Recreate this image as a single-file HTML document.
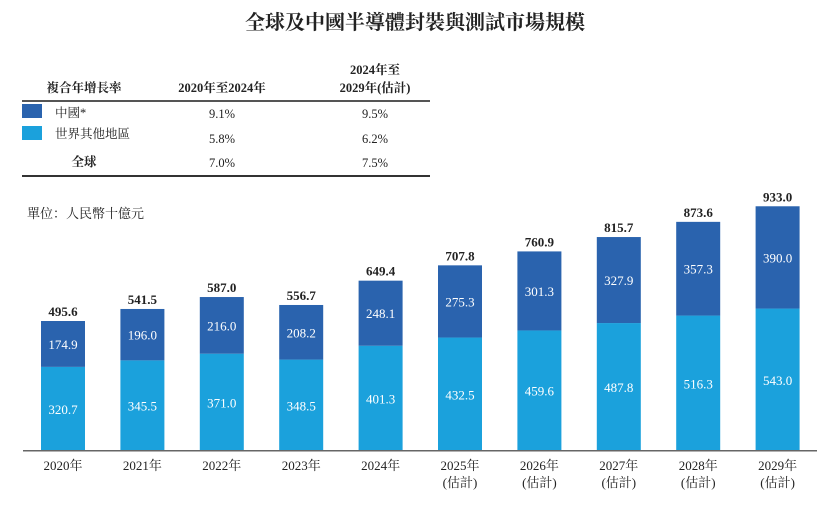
<!DOCTYPE html>
<html><head><meta charset="utf-8"><style>
body{margin:0;background:#fff;}
svg text{font-family:"Liberation Serif","Noto Serif CJK SC","Noto Sans CJK TC",serif;}
</style></head><body>
<svg id="c" width="831" height="500" xmlns="http://www.w3.org/2000/svg">
<text x="415" y="29" text-anchor="middle" font-size="20" font-weight="bold" fill="#222">全球及中國半導體封裝與測試市場規模</text>
<g font-size="12.5" fill="#222">
<text x="84" y="92" text-anchor="middle" font-weight="bold">複合年增長率</text>
<text x="222" y="92" text-anchor="middle" font-weight="bold">2020年至2024年</text>
<text x="375" y="74" text-anchor="middle" font-weight="bold">2024年至</text>
<text x="375" y="92" text-anchor="middle" font-weight="bold">2029年(估計)</text>
<rect x="22" y="100" width="408" height="2" fill="#555"/>
<rect x="22" y="104" width="20" height="14" fill="#2a63ae"/>
<text x="55" y="117">中國*</text>
<text x="222" y="118" text-anchor="middle">9.1%</text>
<text x="375" y="118" text-anchor="middle">9.5%</text>
<rect x="22" y="126" width="20" height="14" fill="#1ba1dc"/>
<text x="55" y="138">世界其他地區</text>
<text x="222" y="143" text-anchor="middle">5.8%</text>
<text x="375" y="143" text-anchor="middle">6.2%</text>
<text x="84" y="166" text-anchor="middle" font-weight="bold">全球</text>
<text x="222" y="167" text-anchor="middle">7.0%</text>
<text x="375" y="167" text-anchor="middle">7.5%</text>
<rect x="22" y="175" width="408" height="2" fill="#333"/>
</g>
<text x="27" y="218" font-size="13" fill="#222">單位：人民幣十億元</text>
<g id="bars"></g>
<rect x="23" y="450" width="794" height="1.5" fill="#666"/>
</svg>
<script>
const years=["2020年","2021年","2022年","2023年","2024年","2025年","2026年","2027年","2028年","2029年"];
const estimated=[false,false,false,false,false,true,true,true,true,true];
const rest=[320.7,345.5,371.0,348.5,401.3,432.5,459.6,487.8,516.3,543.0];
const china=[174.9,196.0,216.0,208.2,248.1,275.3,301.3,327.9,357.3,390.0];
const totals=[495.6,541.5,587.0,556.7,649.4,707.8,760.9,815.7,873.6,933.0];
const NS="http://www.w3.org/2000/svg";
const base=451, k=0.2623, bw=44;
function xc(i){return 63+i*79.4;}
function y(v){return base-v*k;}
const g=document.getElementById('bars');
function mk(t,a){const e=document.createElementNS(NS,t);for(const n in a)e.setAttribute(n,a[n]);return e;}
years.forEach((yr,i)=>{
  const x=xc(i)-bw/2;
  const r1=mk('rect',{x:x,y:y(rest[i]),width:bw,height:rest[i]*k,fill:'#1ba1dc'});
  
  
  g.appendChild(r1);
  const r2=mk('rect',{x:x,y:y(rest[i]+china[i]),width:bw,height:china[i]*k,fill:'#2a63ae'});
  
  
  g.appendChild(r2);
  const t1=mk('text',{x:xc(i),y:(y(0)+y(rest[i]))/2+5,'text-anchor':'middle','font-size':'13',fill:'#fff'});
  t1.textContent=rest[i].toFixed(1);
  
  
  g.appendChild(t1);
  const t2=mk('text',{x:xc(i),y:(y(rest[i])+y(rest[i]+china[i]))/2+5,'text-anchor':'middle','font-size':'13',fill:'#fff'});
  t2.textContent=china[i].toFixed(1);
  
  
  g.appendChild(t2);
  const t3=mk('text',{x:xc(i),y:y(totals[i])-5,'text-anchor':'middle','font-size':'13','font-weight':'bold',fill:'#222'});
  t3.textContent=totals[i].toFixed(1);
  
  
  g.appendChild(t3);
  const t4=mk('text',{x:xc(i),y:470,'text-anchor':'middle','font-size':'13',fill:'#222'});
  t4.textContent=yr;
  
  
  g.appendChild(t4);
  if(estimated[i]){
    const t5=mk('text',{x:xc(i),y:487,'text-anchor':'middle','font-size':'13',fill:'#222'});
    t5.textContent='(估計)';
    
    
    g.appendChild(t5);
  }
});
</script>
</body></html>
